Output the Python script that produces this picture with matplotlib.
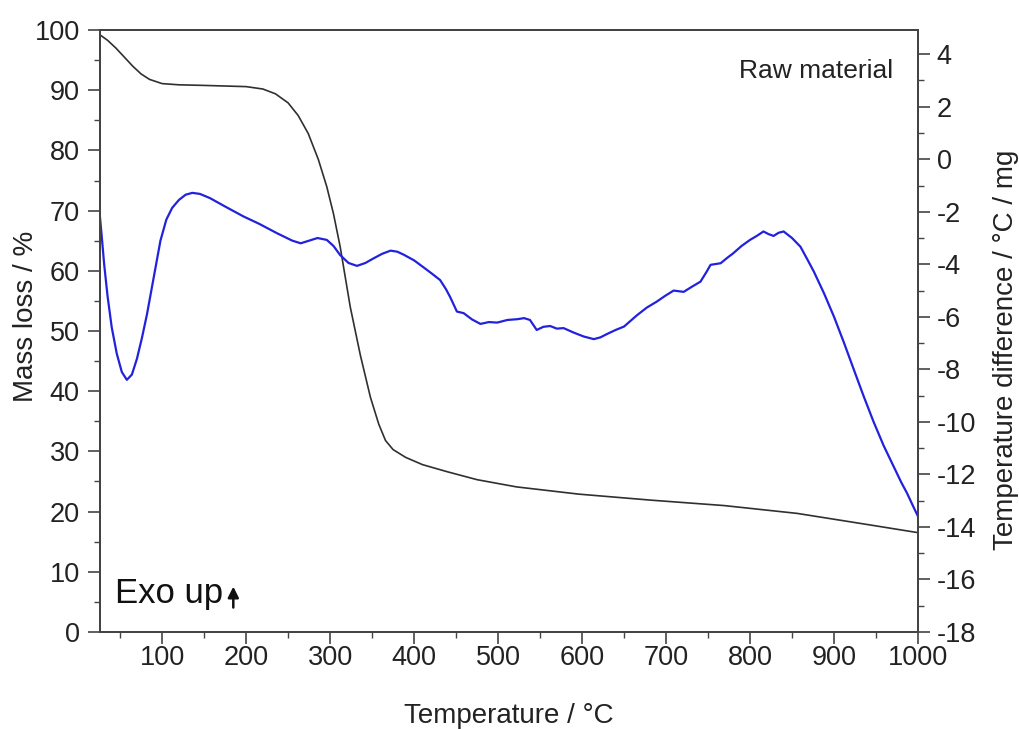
import matplotlib
matplotlib.use("Agg")
import matplotlib.pyplot as plt
from matplotlib.ticker import MultipleLocator

plt.rcParams['font.family'] = ['Liberation Sans', 'DejaVu Sans']
plt.rcParams['axes.unicode_minus'] = False

# mass loss curve (left axis)
temp_mass = [26, 35, 45, 55, 65, 75, 85, 100, 120, 150, 200, 220, 235, 250, 262,
             274, 286, 296, 304, 312, 324, 336, 348, 358, 366, 375, 390, 410, 440,
             475, 522, 596, 682, 769, 856, 942, 1000]
mass_loss = [99.2, 98.3, 97.0, 95.5, 94.0, 92.7, 91.8, 91.1, 90.9, 90.8, 90.6, 90.2,
             89.4, 87.9, 85.8, 82.8, 78.5, 74.0, 69.5, 64.0, 54.0, 46.0, 39.0, 34.5,
             31.8, 30.3, 29.0, 27.8, 26.6, 25.3, 24.1, 22.9, 21.9, 21.0, 19.7, 17.8, 16.5]

# DTA curve (right axis)
temp_dta = [26, 28, 31, 35, 40, 46, 52, 58, 64, 70, 76, 82, 90, 98, 105, 112, 120, 128,
            136, 145, 157, 175, 197, 215, 237, 255, 265, 275, 285, 296, 304, 312, 322,
            332, 342, 352, 362, 372, 380, 388, 400, 411, 421, 431, 438, 443, 451, 459,
            469, 479, 489, 499, 511, 523, 531, 538, 546, 554, 562, 570, 578, 590, 602,
            614, 622, 630, 640, 650, 665, 677, 689, 699, 709, 721, 731, 741, 748, 753,
            765, 773, 780, 790, 800, 808, 816, 822, 828, 834, 840, 850, 860, 868, 876,
            888, 900, 912, 923, 935, 947, 959, 971, 980, 987, 994, 1000]
temp_diff = [-2.2, -2.9, -4.0, -5.2, -6.4, -7.4, -8.1, -8.4, -8.2, -7.6, -6.8, -5.9,
             -4.5, -3.1, -2.3, -1.85, -1.55, -1.35, -1.28, -1.32, -1.48, -1.8, -2.18,
             -2.45, -2.82, -3.1, -3.2, -3.1, -3.0, -3.07, -3.3, -3.65, -3.95, -4.06,
             -3.95, -3.77, -3.6, -3.48, -3.52, -3.64, -3.85, -4.11, -4.35, -4.6, -4.95,
             -5.25, -5.8, -5.86, -6.1, -6.27, -6.2, -6.22, -6.12, -6.09, -6.05, -6.12,
             -6.5, -6.38, -6.35, -6.45, -6.43, -6.6, -6.75, -6.85, -6.78, -6.65, -6.5,
             -6.37, -5.95, -5.65, -5.42, -5.2, -5.0, -5.05, -4.85, -4.66, -4.3, -4.02,
             -3.96, -3.75, -3.58, -3.3, -3.07, -2.92, -2.75, -2.85, -2.92, -2.8, -2.75,
             -3.0, -3.33, -3.8, -4.28, -5.1, -6.0, -7.0, -7.96, -9.0, -9.99, -10.9,
             -11.7, -12.3, -12.72, -13.2, -13.6]

spine_col = '#444444'
text_col = '#222222'

fig = plt.figure(figsize=(10.19, 7.29), dpi=100)
ax = fig.add_axes([0.0981, 0.1331, 0.8028, 0.8257])
ax2 = ax.twinx()

ax.plot(temp_mass, mass_loss, color='#303030', lw=1.2)
ax2.plot(temp_dta, temp_diff, color='#2222dd', lw=1.6)

ax.set_xlim(26, 1000)
ax.set_ylim(0, 100)
ax2.set_ylim(-18, 4.92)

ax.xaxis.set_major_locator(MultipleLocator(100))
ax.xaxis.set_minor_locator(MultipleLocator(50))
ax.yaxis.set_major_locator(MultipleLocator(10))
ax.yaxis.set_minor_locator(MultipleLocator(5))
ax2.yaxis.set_major_locator(MultipleLocator(2))
ax2.yaxis.set_minor_locator(MultipleLocator(1))

for a in (ax, ax2):
    for s in a.spines.values():
        s.set_color(spine_col)
        s.set_linewidth(1.4)
    a.tick_params(which='major', direction='out', length=8.5, width=1.2,
                  color=spine_col, labelsize=19.5, labelcolor=text_col)
    a.tick_params(which='minor', direction='out', length=4.5, width=1.0,
                  color=spine_col)
ax.tick_params(axis='x', which='major', pad=1)
ax.tick_params(axis='y', which='major', pad=6)
ax2.tick_params(axis='y', which='major', pad=5)
ax.tick_params(top=False, which='both')

ax.set_xlabel('Temperature / °C', fontsize=20, color=text_col)
ax.xaxis.set_label_coords(0.5, -0.118)
ax.set_ylabel('Mass loss / %', fontsize=20, color=text_col)
ax.yaxis.set_label_coords(-0.074, 0.524)
ax2.set_ylabel('Temperature difference / °C / mg', fontsize=20, color=text_col)
ax2.yaxis.set_label_coords(1.092, 0.468)

ax.text(0.969, 0.920, 'Raw material', transform=ax.transAxes, ha='right',
        va='baseline', fontsize=19, color=text_col)
ax.text(0.018, 0.048, 'Exo up', transform=ax.transAxes, ha='left',
        va='baseline', fontsize=25, color='#111111')
ax.annotate('', xy=(0.163, 0.080), xytext=(0.163, 0.036), xycoords='axes fraction',
            arrowprops=dict(arrowstyle='-|>', color='#111111', lw=1.8,
                            mutation_scale=16))

fig.savefig('out.png', dpi=100)
